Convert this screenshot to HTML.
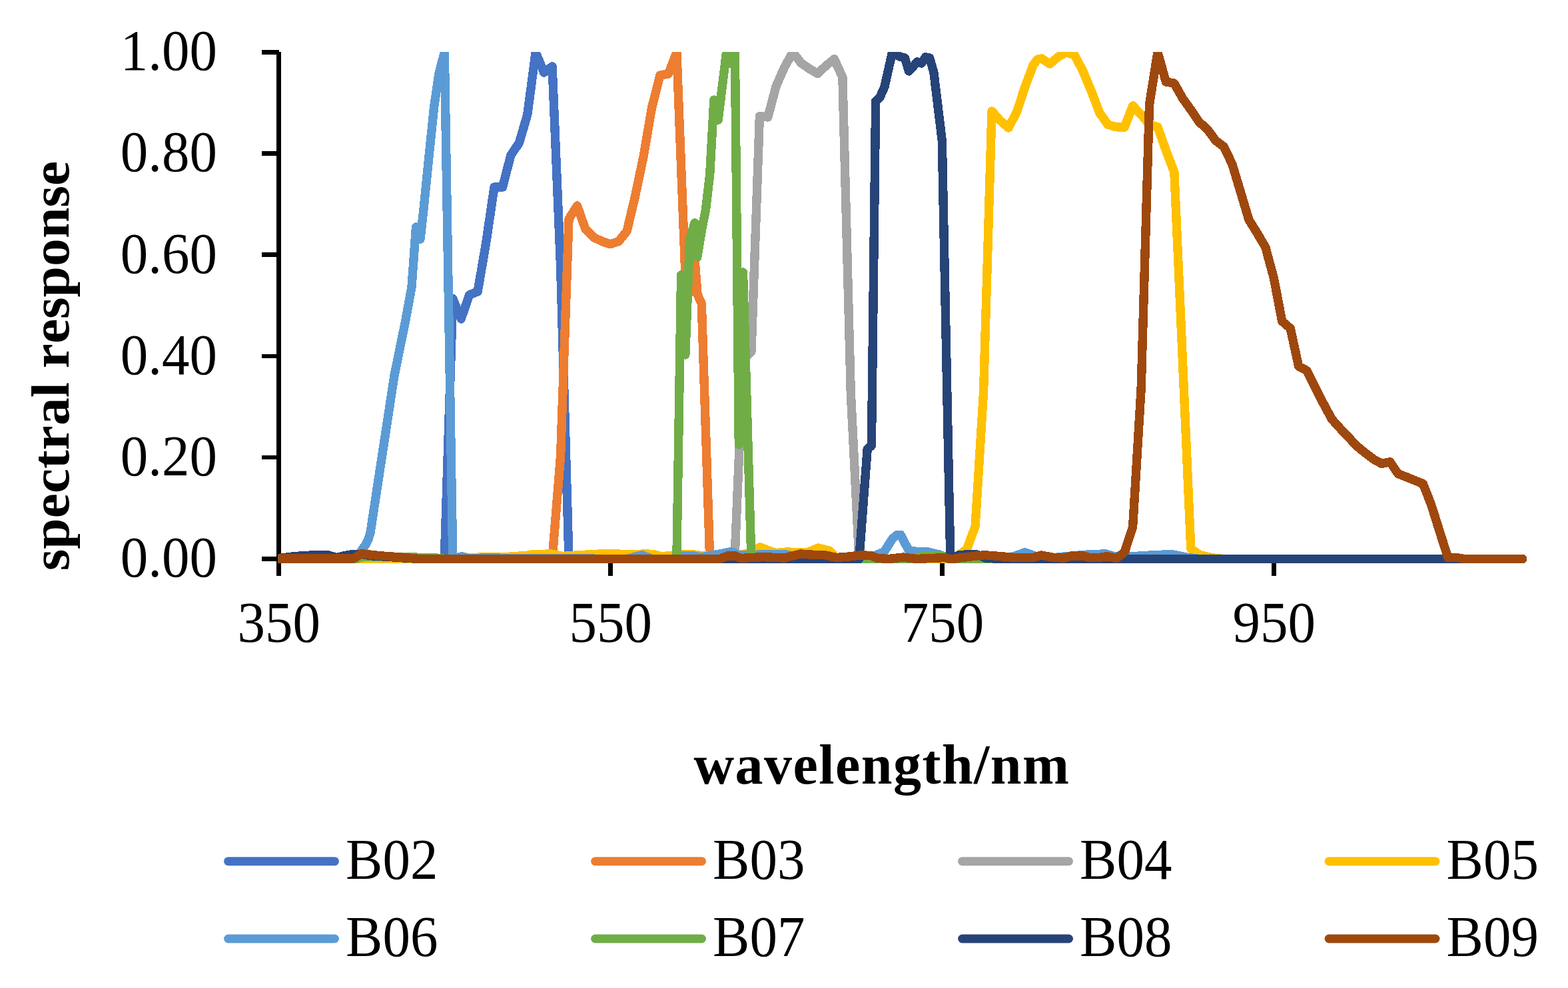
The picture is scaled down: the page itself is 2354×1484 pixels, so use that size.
<!DOCTYPE html>
<html lang="en">
<head>
<meta charset="utf-8">
<title>Spectral response</title>
<style>
html,body{margin:0;padding:0;background:#fff;}
body{width:2354px;height:1484px;overflow:hidden;}
svg{display:block;}
text{font-family:"Liberation Serif","Times New Roman",serif;fill:#000;font-kerning:none;}
.tick{font-size:83px;}
.title{font-size:84px;font-weight:bold;}
.leg{font-size:83px;}
.s{fill:none;stroke-width:13.4;stroke-linejoin:round;stroke-linecap:round;shape-rendering:crispEdges;}
.ax{stroke:#000;stroke-width:6.8;fill:none;stroke-linecap:butt;shape-rendering:crispEdges;}
</style>
</head>
<body>
<svg width="2354" height="1484" viewBox="0 0 2354 1484">
<defs><clipPath id="plot"><rect x="417.8" y="77.9" width="1936" height="768.1"/></clipPath></defs>
<rect x="0" y="0" width="2354" height="1484" fill="#ffffff"/>

<g class="ax">
<line x1="418.6" y1="77.8" x2="418.6" y2="864.7"/>
<line x1="418.6" y1="839.1" x2="2286" y2="839.1"/>
<line x1="393" y1="78.5" x2="419.2" y2="78.5"/>
<line x1="393" y1="230.6" x2="419.2" y2="230.6"/>
<line x1="393" y1="382.7" x2="419.2" y2="382.7"/>
<line x1="393" y1="534.9" x2="419.2" y2="534.9"/>
<line x1="393" y1="687.0" x2="419.2" y2="687.0"/>
<line x1="393" y1="839.1" x2="419.2" y2="839.1"/>
<line x1="916.3" y1="839.1" x2="916.3" y2="864.7"/>
<line x1="1414.4" y1="839.1" x2="1414.4" y2="864.7"/>
<line x1="1912.2" y1="839.1" x2="1912.2" y2="864.7"/>
</g>
<text class="tick" transform="translate(326,105.3) scale(1,1.045)" text-anchor="end">1.00</text>
<text class="tick" transform="translate(326,257.4) scale(1,1.045)" text-anchor="end">0.80</text>
<text class="tick" transform="translate(326,409.5) scale(1,1.045)" text-anchor="end">0.60</text>
<text class="tick" transform="translate(326,561.7) scale(1,1.045)" text-anchor="end">0.40</text>
<text class="tick" transform="translate(326,713.8) scale(1,1.045)" text-anchor="end">0.20</text>
<text class="tick" transform="translate(326,865.9) scale(1,1.045)" text-anchor="end">0.00</text>
<text class="tick" transform="translate(418.8,964.4) scale(1,1.045)" text-anchor="middle">350</text>
<text class="tick" transform="translate(916.8,964.4) scale(1,1.045)" text-anchor="middle">550</text>
<text class="tick" transform="translate(1414.9,964.4) scale(1,1.045)" text-anchor="middle">750</text>
<text class="tick" transform="translate(1912.7,964.4) scale(1,1.045)" text-anchor="middle">950</text>
<text class="title" x="1041.5" y="1177.4" textLength="563.5" lengthAdjust="spacing">wavelength/nm</text>
<text class="title" transform="translate(103.1,549.6) scale(0.963,0.9955) rotate(-90)" text-anchor="middle">spectral response</text>
<g clip-path="url(#plot)">
<polyline class="s" stroke="#4472C4" points="418.3,839.5 667.3,839.5 679.8,448.6 692.2,479.0 704.6,443.0 717.1,438.0 729.5,366.0 742.0,281.0 754.5,281.0 766.9,233.0 779.3,215.0 791.8,172.0 804.2,78.5 816.7,109.0 829.1,99.8 841.6,400.0 854.0,839.5 2285.8,839.5"/>
<polyline class="s" stroke="#ED7D31" points="418.3,839.5 829.1,839.5 841.6,685.0 854.0,329.0 866.5,309.0 879.0,344.3 891.4,356.5 903.8,362.6 916.3,366.7 928.8,362.6 941.2,347.0 953.7,294.0 966.1,234.9 978.5,162.0 991.0,113.0 1003.5,111.0 1015.9,78.5 1028.4,400.0 1034.6,440.0 1040.8,360.0 1047.0,442.0 1053.3,456.0 1065.7,839.5 2285.8,839.5"/>
<polyline class="s" stroke="#A5A5A5" points="418.3,839.5 1103.0,839.5 1115.5,540.0 1128.0,528.0 1140.4,174.5 1152.8,176.0 1165.3,129.0 1177.8,100.8 1190.2,78.5 1202.6,94.5 1215.1,103.3 1227.5,110.6 1240.0,98.7 1252.5,88.7 1264.9,116.0 1277.3,590.0 1289.8,839.5 2285.8,839.5"/>
<polyline class="s" stroke="#FFC000" points="418.3,839.5 690.0,839.5 720.0,837.0 760.0,836.5 790.0,834.4 800.0,832.7 827.6,832.0 844.6,835.5 868.4,833.8 902.3,831.9 924.4,831.9 950.0,833.2 967.0,831.9 980.5,832.4 994.0,835.8 1007.7,834.4 1026.4,832.7 1040.0,832.7 1055.3,834.9 1100.0,835.5 1128.0,830.0 1141.0,821.9 1155.0,827.3 1165.0,830.5 1180.0,829.0 1198.0,829.5 1211.6,829.8 1228.6,823.0 1245.5,827.3 1254.0,836.6 1265.0,839.5 1425.0,839.5 1439.2,834.0 1451.6,824.8 1464.1,790.5 1476.5,590.0 1489.0,167.0 1501.4,181.0 1513.9,191.9 1526.3,168.8 1538.8,130.5 1551.2,97.7 1557.5,89.3 1563.7,87.9 1576.1,95.9 1588.6,85.5 1601.0,78.5 1613.5,83.0 1625.9,107.0 1638.4,137.0 1650.8,169.6 1663.3,187.1 1675.7,190.8 1688.2,191.0 1700.6,158.9 1713.1,172.0 1725.5,187.0 1738.0,190.8 1750.4,225.7 1762.9,258.8 1775.3,538.6 1787.8,824.0 1800.2,833.0 1812.7,836.5 1825.1,838.5 1837.6,839.5 2285.8,839.5"/>
<polyline class="s" stroke="#5B9BD5" points="418.3,839.5 530.4,839.5 537.0,836.0 543.0,826.5 549.0,818.0 553.0,810.0 556.0,800.0 592.0,564.0 608.7,482.0 618.0,431.0 621.0,390.0 624.5,341.0 631.0,359.0 636.2,312.0 644.5,230.0 651.5,162.0 658.8,111.0 667.3,78.5 679.8,839.5 686.0,838.0 693.0,835.8 705.0,838.5 730.0,838.0 780.0,838.5 941.0,839.5 963.5,833.8 979.0,839.5 1010.0,839.5 1023.0,834.6 1040.0,834.4 1052.0,837.0 1075.0,833.0 1097.7,828.7 1111.3,834.1 1130.0,834.0 1145.0,832.4 1177.6,832.4 1195.0,836.0 1230.0,838.0 1290.0,838.0 1314.7,834.0 1327.2,829.0 1339.6,809.5 1346.0,803.9 1352.0,803.3 1364.5,827.0 1377.0,828.5 1393.0,829.0 1410.0,833.0 1420.0,838.0 1500.0,839.5 1521.0,836.0 1538.6,829.8 1556.5,836.0 1580.0,838.0 1597.0,836.0 1633.0,833.0 1660.0,831.9 1674.0,836.0 1696.0,836.0 1735.0,833.5 1760.4,832.7 1781.0,837.0 1800.0,839.5 2285.8,839.5"/>
<polyline class="s" stroke="#70AD47" points="418.3,839.5 535.0,839.5 545.0,836.0 600.0,836.5 655.0,838.0 670.0,839.5 1015.9,839.5 1022.6,413.0 1028.8,533.0 1035.4,361.0 1043.0,334.7 1046.8,386.0 1053.3,346.0 1059.5,315.0 1065.7,262.0 1071.9,150.0 1078.2,180.0 1084.4,129.0 1090.6,78.5 1096.8,95.0 1103.4,78.5 1109.3,668.0 1115.5,409.0 1127.9,839.5 1365.0,839.5 1385.0,835.3 1415.0,834.7 1425.0,839.5 2285.8,839.5"/>
<polyline class="s" stroke="#264478" points="418.3,838.5 443.0,835.5 468.0,834.0 493.0,834.0 505.5,837.5 518.0,834.5 530.0,832.5 543.0,832.5 560.0,835.0 600.0,837.5 630.0,839.5 1289.8,839.5 1302.2,674.5 1308.4,669.4 1314.7,152.0 1321.0,146.0 1327.9,130.5 1339.6,78.5 1352.0,85.5 1358.3,86.8 1364.5,106.9 1377.0,93.0 1383.2,95.0 1389.4,85.8 1395.6,87.0 1401.8,108.4 1408.1,160.3 1414.3,211.2 1426.8,839.5 1439.0,834.0 1452.0,832.7 1466.0,833.0 1480.0,838.0 1500.0,839.5 2195.0,839.5"/>
<polyline class="s" stroke="#9E480E" points="418.3,838.8 530.4,839.0 542.8,831.6 570.0,834.7 610.7,837.7 629.4,839.5 1080.0,839.5 1092.0,835.0 1104.0,835.0 1112.0,838.5 1145.0,836.6 1177.6,838.0 1201.4,832.0 1225.0,833.5 1238.7,833.8 1255.7,837.5 1275.0,836.0 1293.0,833.8 1307.0,834.5 1317.0,838.3 1334.0,839.5 1356.0,837.0 1376.0,839.5 1419.0,837.5 1427.4,840.0 1444.0,837.5 1478.0,833.7 1500.0,835.5 1522.5,837.4 1551.0,837.4 1563.3,834.0 1582.0,837.5 1597.0,838.0 1609.0,835.0 1626.0,835.0 1636.0,837.6 1650.0,837.6 1660.0,836.0 1667.0,836.3 1675.7,838.8 1688.2,829.4 1700.6,791.4 1713.1,585.0 1725.5,157.0 1738.0,78.5 1750.4,122.9 1762.9,125.2 1775.3,147.5 1787.8,164.8 1800.2,183.2 1812.7,194.2 1825.1,211.2 1837.6,220.6 1850.0,247.0 1862.5,288.5 1874.9,330.0 1887.4,350.2 1899.8,371.3 1912.3,417.5 1924.7,482.5 1937.2,493.2 1949.6,550.1 1962.1,556.9 1974.5,581.9 1987.0,606.5 1999.4,629.5 2011.9,643.4 2024.3,656.5 2036.8,669.8 2049.2,680.0 2061.7,689.5 2074.2,696.6 2086.6,693.7 2099.1,711.8 2111.5,716.5 2123.9,721.6 2136.4,726.7 2148.8,758.5 2161.3,798.4 2173.8,837.5 2186.2,837.5 2198.7,839.5 2285.8,839.5"/>
</g>
<line x1="342.6" y1="1293.7" x2="502.5" y2="1293.7" stroke="#4472C4" stroke-width="13" stroke-linecap="round"/>
<text class="leg" transform="translate(519.1,1320.1) scale(1,1.045)">B02</text>
<line x1="893.6" y1="1293.7" x2="1053.5" y2="1293.7" stroke="#ED7D31" stroke-width="13" stroke-linecap="round"/>
<text class="leg" transform="translate(1070.1,1320.1) scale(1,1.045)">B03</text>
<line x1="1444.6" y1="1293.7" x2="1604.5" y2="1293.7" stroke="#A5A5A5" stroke-width="13" stroke-linecap="round"/>
<text class="leg" transform="translate(1621.1,1320.1) scale(1,1.045)">B04</text>
<line x1="1995.1" y1="1293.7" x2="2155.0" y2="1293.7" stroke="#FFC000" stroke-width="13" stroke-linecap="round"/>
<text class="leg" transform="translate(2171.6,1320.1) scale(1,1.045)">B05</text>
<line x1="342.6" y1="1410.0" x2="502.5" y2="1410.0" stroke="#5B9BD5" stroke-width="13" stroke-linecap="round"/>
<text class="leg" transform="translate(519.1,1436.4) scale(1,1.045)">B06</text>
<line x1="893.6" y1="1410.0" x2="1053.5" y2="1410.0" stroke="#70AD47" stroke-width="13" stroke-linecap="round"/>
<text class="leg" transform="translate(1070.1,1436.4) scale(1,1.045)">B07</text>
<line x1="1444.6" y1="1410.0" x2="1604.5" y2="1410.0" stroke="#264478" stroke-width="13" stroke-linecap="round"/>
<text class="leg" transform="translate(1621.1,1436.4) scale(1,1.045)">B08</text>
<line x1="1995.1" y1="1410.0" x2="2155.0" y2="1410.0" stroke="#9E480E" stroke-width="13" stroke-linecap="round"/>
<text class="leg" transform="translate(2171.6,1436.4) scale(1,1.045)">B09</text>
</svg>
</body>
</html>
